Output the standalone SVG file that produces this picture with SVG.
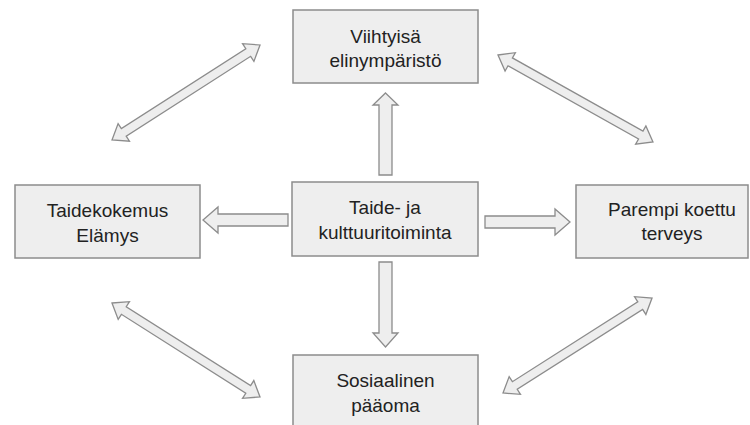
<svg xmlns="http://www.w3.org/2000/svg" width="750" height="425" viewBox="0 0 750 425">
<style>
.box{fill:#eeeeee;stroke:#8c8c8c;stroke-width:1.5}
.arr{fill:#eeeeee;stroke:#8c8c8c;stroke-width:1.3;stroke-linejoin:miter}
text{font-family:"Liberation Sans",Arial,sans-serif;font-size:19px;fill:#222;text-anchor:middle}
</style>
<rect width="750" height="425" fill="#ffffff"/>
<g id="connectors">
<polygon class="arr" points="203,220 218,207 218,214 288,214 288,226 218,226 218,233"/>
<polygon class="arr" points="570,222 555,209 555,216 485,216 485,228 555,228 555,235"/>
<polygon class="arr" points="385.5,93 398,105 392,105 392,175 379,175 379,105 373,105"/>
<polygon class="arr" points="385.5,347 398,333 392,333 392,262 379,262 379,333 373,333"/>
<polygon class="arr" transform="translate(112,140) rotate(-32.7)" points="0,0 14,-10.5 14,-4.5 161.9,-4.5 161.9,-10.5 175.9,0 161.9,10.5 161.9,4.5 14,4.5 14,10.5"/>
<polygon class="arr" transform="translate(498,55) rotate(29.3)" points="0,0 14,-10.5 14,-4.5 163.7,-4.5 163.7,-10.5 177.7,0 163.7,10.5 163.7,4.5 14,4.5 14,10.5"/>
<polygon class="arr" transform="translate(112,303) rotate(32.4)" points="0,0 14,-10.5 14,-4.5 161.3,-4.5 161.3,-10.5 175.3,0 161.3,10.5 161.3,4.5 14,4.5 14,10.5"/>
<polygon class="arr" transform="translate(503,393) rotate(-32.5)" points="0,0 14,-10.5 14,-4.5 162.7,-4.5 162.7,-10.5 176.7,0 162.7,10.5 162.7,4.5 14,4.5 14,10.5"/>
</g>
<g id="top">
<rect class="box" x="293" y="10" width="185" height="73"/>
<text x="385.5" y="43">Viihtyisä</text>
<text x="385.5" y="67">elinympäristö</text>
</g>
<g id="left">
<rect class="box" x="15" y="185" width="185" height="73"/>
<text x="107.5" y="217">Taidekokemus</text>
<text x="107.5" y="242">Elämys</text>
</g>
<g id="center">
<rect class="box" x="292" y="182" width="186" height="74"/>
<text x="385" y="214">Taide- ja</text>
<text x="385" y="239">kulttuuritoiminta</text>
</g>
<g id="right">
<rect class="box" x="576" y="185" width="172" height="73"/>
<text x="672" y="216">Parempi koettu</text>
<text x="672" y="240">terveys</text>
</g>
<g id="bottom">
<rect class="box" x="293" y="355" width="185" height="80"/>
<text x="385.5" y="387">Sosiaalinen</text>
<text x="385.5" y="412">pääoma</text>
</g>
</svg>
